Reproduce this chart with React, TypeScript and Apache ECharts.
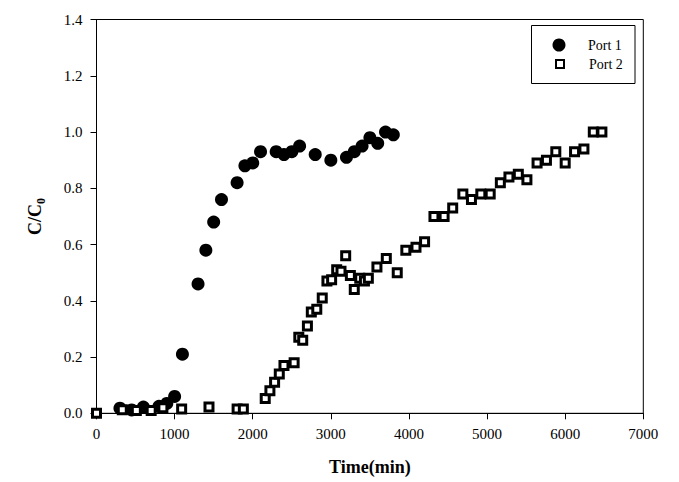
import React, { useEffect, useRef } from "react";
import * as echarts from "echarts";

const port1Time = [300, 450, 600, 800, 900, 1000, 1100, 1300, 1400, 1500, 1600, 1800, 1900, 2000, 2100, 2300, 2400, 2500, 2600, 2800, 3000, 3200, 3300, 3400, 3500, 3600, 3700, 3800];
const port1C = [0.018, 0.012, 0.022, 0.025, 0.035, 0.06, 0.21, 0.46, 0.58, 0.68, 0.76, 0.82, 0.88, 0.89, 0.93, 0.93, 0.92, 0.93, 0.95, 0.92, 0.9, 0.91, 0.93, 0.95, 0.98, 0.96, 1.0, 0.99];

const port2Time = [0, 330, 510, 700, 850, 1090, 1440, 1800, 1880, 2160, 2220, 2280, 2340, 2400, 2530, 2590, 2640, 2700, 2750, 2820, 2890, 2950, 3010, 3075, 3130, 3190, 3250, 3300, 3370, 3430, 3480, 3590, 3710, 3850, 3960, 4090, 4200, 4320, 4450, 4560, 4690, 4800, 4920, 5040, 5170, 5280, 5400, 5510, 5640, 5760, 5880, 6000, 6120, 6240, 6360, 6470];
const port2C = [0, 0.013, 0.01, 0.01, 0.02, 0.015, 0.022, 0.015, 0.015, 0.053, 0.08, 0.11, 0.14, 0.17, 0.18, 0.27, 0.26, 0.31, 0.36, 0.37, 0.41, 0.47, 0.475, 0.51, 0.505, 0.56, 0.49, 0.44, 0.48, 0.47, 0.48, 0.52, 0.55, 0.5, 0.58, 0.59, 0.61, 0.7, 0.7, 0.73, 0.78, 0.76, 0.78, 0.78, 0.82, 0.84, 0.85, 0.83, 0.89, 0.9, 0.93, 0.89, 0.93, 0.94, 1.0, 1.0];

const seriesNames = ["Port 1", "Port 2"];
const xName = "Time(min)";

const FONT = "'Liberation Serif', 'Times New Roman', serif";

export default function App() {
  const ref = useRef<HTMLDivElement>(null);
  useEffect(() => {
    if (!ref.current) return;
    const chart = echarts.init(ref.current, null, { renderer: "svg" });
    const p1 = port1Time.map((t, i) => [t, port1C[i]]);
    const p2 = port2Time.map((t, i) => [t, port2C[i]]);
    chart.setOption({
      animation: false,
      backgroundColor: "#fff",
      textStyle: { fontFamily: FONT, color: "#000" },
      grid: {
        left: 96.5,
        top: 19.5,
        right: 35.7,
        bottom: 68.7,
        show: true,
        borderColor: "#000",
        borderWidth: 1,
        backgroundColor: "transparent",
      },
      xAxis: {
        type: "value",
        min: 0,
        max: 7000,
        interval: 1000,
        name: xName,
        nameLocation: "middle",
        nameGap: 45,
        nameTextStyle: { fontFamily: FONT, fontSize: 18, fontWeight: "bold", color: "#000" },
        axisLine: { show: true, lineStyle: { color: "#000", width: 1 } },
        axisTick: { show: true, inside: false, length: 6, lineStyle: { color: "#000" } },
        axisLabel: { fontFamily: FONT, fontSize: 15, color: "#000", margin: 13, formatter: (v: number) => String(v) },
        splitLine: { show: false },
      },
      yAxis: {
        type: "value",
        min: 0,
        max: 1.4,
        interval: 0.2,
        name: "{a|C/C}{b|0}",
        nameLocation: "middle",
        nameRotate: 90,
        nameGap: 50,
        nameTextStyle: {
          rich: {
            a: { fontFamily: FONT, fontSize: 18, fontWeight: "bold", color: "#000", lineHeight: 24 },
            b: { fontFamily: FONT, fontSize: 12, fontWeight: "bold", color: "#000", lineHeight: 24, verticalAlign: "bottom", padding: [6, 0, 0, 0] },
          },
        },
        axisLine: { show: true, lineStyle: { color: "#000", width: 1 } },
        axisTick: { show: true, inside: false, length: 6, lineStyle: { color: "#000" } },
        axisLabel: {
          fontFamily: FONT,
          fontSize: 15,
          color: "#000",
          margin: 14,
          formatter: (v: number) => v.toFixed(1),
        },
        splitLine: { show: false },
      },
      legend: [
        {
          data: [seriesNames[0]],
          left: 552.5,
          top: 38,
          padding: 0,
          itemWidth: 13,
          itemHeight: 13,
          textStyle: { fontFamily: FONT, fontSize: 14, color: "#000", padding: [0, 0, 0, 17.5] },
        },
        {
          data: [seriesNames[1]],
          left: 555,
          top: 57,
          padding: 0,
          itemWidth: 8,
          itemHeight: 8,
          textStyle: { fontFamily: FONT, fontSize: 14, color: "#000", padding: [0, 0, 0, 20] },
        },
      ],
      graphic: [
        {
          type: "rect",
          shape: { x: 531.5, y: 25.5, width: 103.5, height: 58 },
          style: { fill: "none", stroke: "#000", lineWidth: 1 },
          z: 10,
        },
      ],
      series: [
        {
          name: seriesNames[0],
          type: "scatter",
          data: p1,
          symbol: "circle",
          symbolSize: 13,
          itemStyle: { color: "#000", opacity: 1 },
          z: 2,
        },
        {
          name: seriesNames[1],
          type: "scatter",
          data: p2,
          symbol: "rect",
          symbolSize: 8,
          itemStyle: { color: "#fff", borderColor: "#000", borderWidth: 3, opacity: 1 },
          z: 3,
        },
      ],
    });
    return () => chart.dispose();
  }, []);
  return (
    <div
      ref={ref}
      style={{ position: "fixed", left: 0, top: 0, width: 679, height: 482, background: "#fff" }}
    />
  );
}
